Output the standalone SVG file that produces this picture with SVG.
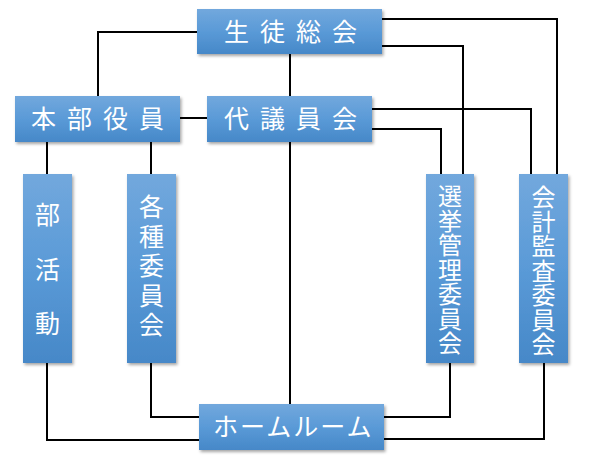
<svg xmlns="http://www.w3.org/2000/svg" width="593" height="476" viewBox="0 0 593 476">
<defs>
<linearGradient id="g" x1="0" y1="0" x2="0" y2="1">
<stop offset="0" stop-color="#72a8dd"/>
<stop offset="0.5" stop-color="#5a9ad7"/>
<stop offset="1" stop-color="#4688c8"/>
</linearGradient>
<filter id="sh" x="-10%" y="-10%" width="130%" height="130%">
<feDropShadow dx="1.5" dy="2" stdDeviation="1.5" flood-color="#000" flood-opacity="0.35"/>
</filter>
<style>
.box{fill:url(#g);filter:url(#sh);}
.t{fill:#fff;font-family:"Noto Sans CJK JP","Noto Sans",sans-serif;font-weight:400;font-size:25px;}
.v{writing-mode:vertical-rl;text-anchor:start;}
.c{fill:none;stroke:#000;stroke-width:2;}
</style>
</defs>
<rect width="593" height="476" fill="#fff"/>
<g id="connectors" class="c">
<path d="M197,32H98V96"/>
<path d="M290,54V96"/>
<path d="M180,118H207"/>
<path d="M382,19H557V174"/>
<path d="M382,46H463V174"/>
<path d="M372,109H531V174"/>
<path d="M372,129H441V174"/>
<path d="M47,142V174"/>
<path d="M151,142V174"/>
<path d="M290,142V404"/>
<path d="M47,363V440H199"/>
<path d="M151,363V417H199"/>
<path d="M450,363V417H384"/>
<path d="M544,363V439H384"/>
</g>
<g id="seito-sokai">
<rect class="box" x="197" y="9" width="185" height="45"/>
<text class="t" x="224" y="41" letter-spacing="11">生徒総会</text>
</g>
<g id="honbu-yakuin">
<rect class="box" x="15" y="96" width="165" height="46"/>
<text class="t" x="31" y="128" letter-spacing="11">本部役員</text>
</g>
<g id="daigiinkai">
<rect class="box" x="207" y="96" width="165" height="46"/>
<text class="t" x="224" y="128" letter-spacing="11">代議員会</text>
</g>
<g id="bukatsudo">
<rect class="box" x="23" y="174" width="49" height="189"/>
<text class="t v" x="47.5" y="202" letter-spacing="29.5">部活動</text>
</g>
<g id="kakushu-iinkai">
<rect class="box" x="127" y="174" width="49" height="189"/>
<text class="t v" x="151.5" y="194" letter-spacing="4.5">各種委員会</text>
</g>
<g id="senkyo-kanri-iinkai">
<rect class="box" x="426" y="174" width="48" height="189"/>
<text class="t v" x="450" y="184" letter-spacing="0.5" style="font-size:24px">選挙管理委員会</text>
</g>
<g id="kaikei-kansa-iinkai">
<rect class="box" x="519" y="174" width="49" height="189"/>
<text class="t v" x="543.5" y="185" letter-spacing="0.5" style="font-size:24px">会計監査委員会</text>
</g>
<g id="homeroom">
<rect class="box" x="199" y="404" width="185" height="46"/>
<text class="t" x="213" y="436" letter-spacing="2">ホームルーム</text>
</g>
</svg>
